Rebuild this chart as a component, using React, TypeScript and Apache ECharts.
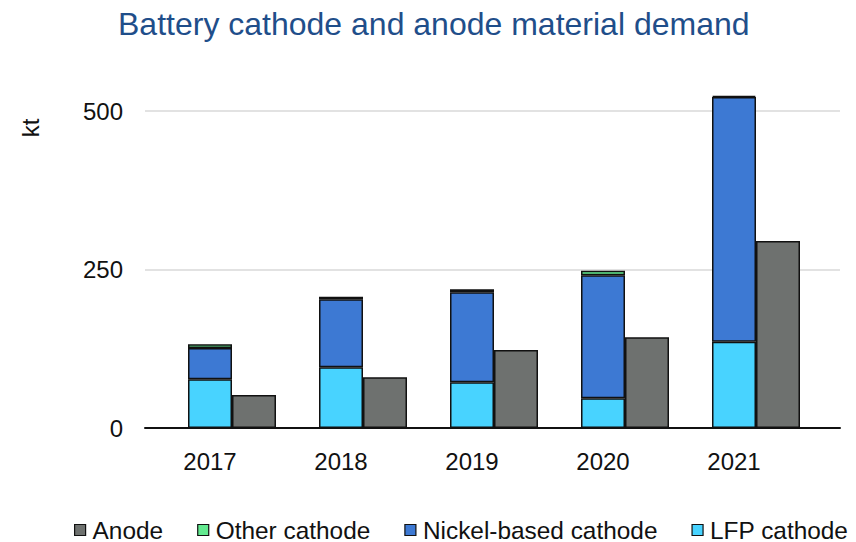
import React, { useEffect, useRef } from "react";
import * as echarts from "echarts";

const years = ["2017", "2018", "2019", "2020", "2021"];
const lfpCathode = [77, 96, 72, 47, 136];
const nickelCathode = [49, 107, 142, 194, 386];
const otherCathode = [6, 4, 5, 7, 2];
const anode = [52, 80, 123, 143, 295];
const yTicks = [0, 250, 500];

const FONT = "'Liberation Sans', Arial, sans-serif";

export default function App() {
  const ref = useRef<HTMLDivElement>(null);
  useEffect(() => {
    if (!ref.current) return;
    const chart = echarts.init(ref.current, undefined, { renderer: "svg" });
    const border = { borderColor: "#111", borderWidth: 1.5 };
    const top = 79.3;
    const bottom = 114;
    chart.setOption({
      animation: false,
      backgroundColor: "#fff",
      textStyle: { fontFamily: FONT },
      title: {
        text: "Battery cathode and anode material demand",
        left: 113,
        top: 3,
        textStyle: { fontFamily: FONT, fontSize: 32, fontWeight: "normal", color: "#1F4E8A" },
      },
      legend: {
        data: ["Anode", "Other cathode", "Nickel-based cathode", "LFP cathode"],
        left: 74,
        top: 518,
        padding: 0,
        itemGap: 34,
        itemWidth: 11,
        itemHeight: 11,
        icon: "rect",
        itemStyle: { borderColor: "#111", borderWidth: 1.2 },
        textStyle: {
          fontFamily: FONT,
          fontSize: 24.4,
          lineHeight: 20,
          color: "#111",
          padding: [0, 0, 0, 2],
        },
      },
      graphic: [
        {
          type: "text",
          x: 30,
          y: 128,
          rotation: Math.PI / 2,
          style: {
            text: "kt",
            font: `24px ${FONT}`,
            fill: "#111",
            textAlign: "center",
            textVerticalAlign: "middle",
          },
        },
      ],
      grid: [
        { left: 144.5, right: 56.5, top, bottom, containLabel: false },
        { left: 145, right: 16, top, bottom, containLabel: false },
      ],
      xAxis: [
        {
          type: "category",
          gridIndex: 0,
          data: years,
          axisLine: { show: false },
          axisTick: { show: false },
          axisLabel: { fontFamily: FONT, fontSize: 24, color: "#111", margin: 21 },
        },
        {
          type: "category",
          gridIndex: 1,
          data: [""],
          axisLine: { show: true, lineStyle: { color: "#111", width: 2 } },
          axisTick: { show: false },
          axisLabel: { show: false },
        },
      ],
      yAxis: [
        { type: "value", gridIndex: 0, min: 0, max: 550, show: false },
        {
          type: "value",
          gridIndex: 1,
          min: yTicks[0],
          max: 550,
          interval: yTicks[1] - yTicks[0],
          axisLine: { show: false },
          axisTick: { show: false },
          axisLabel: {
            fontFamily: FONT,
            fontSize: 24,
            color: "#111",
            margin: 22,
            showMaxLabel: false,
          },
          splitLine: {
            show: true,
            showMinLine: false,
            showMaxLine: false,
            lineStyle: { color: "#D9D9D9", width: 1.5 },
          },
        },
      ],
      series: [
        {
          name: "spacer",
          type: "bar",
          xAxisIndex: 0,
          yAxisIndex: 0,
          stack: "spacer",
          barWidth: 44,
          barGap: 0,
          data: years.map(() => null),
        },
        {
          name: "LFP cathode",
          type: "bar",
          xAxisIndex: 0,
          yAxisIndex: 0,
          stack: "cathode",
          barWidth: 44,
          barGap: 0,
          itemStyle: { color: "#48D3FF", ...border },
          data: lfpCathode,
        },
        {
          name: "Nickel-based cathode",
          type: "bar",
          xAxisIndex: 0,
          yAxisIndex: 0,
          stack: "cathode",
          barWidth: 44,
          barGap: 0,
          itemStyle: { color: "#3D79D3", ...border },
          data: nickelCathode,
        },
        {
          name: "Other cathode",
          type: "bar",
          xAxisIndex: 0,
          yAxisIndex: 0,
          stack: "cathode",
          barWidth: 44,
          barGap: 0,
          itemStyle: { color: "#63EA90", ...border },
          data: otherCathode,
        },
        {
          name: "Anode",
          type: "bar",
          xAxisIndex: 0,
          yAxisIndex: 0,
          stack: "anode",
          barWidth: 44,
          barGap: 0,
          itemStyle: { color: "#6E716F", ...border },
          data: anode,
        },
      ],
    });
    return () => chart.dispose();
  }, []);
  return <div ref={ref} style={{ width: 856, height: 542, position: "absolute", left: 0, top: 0 }} />;
}
